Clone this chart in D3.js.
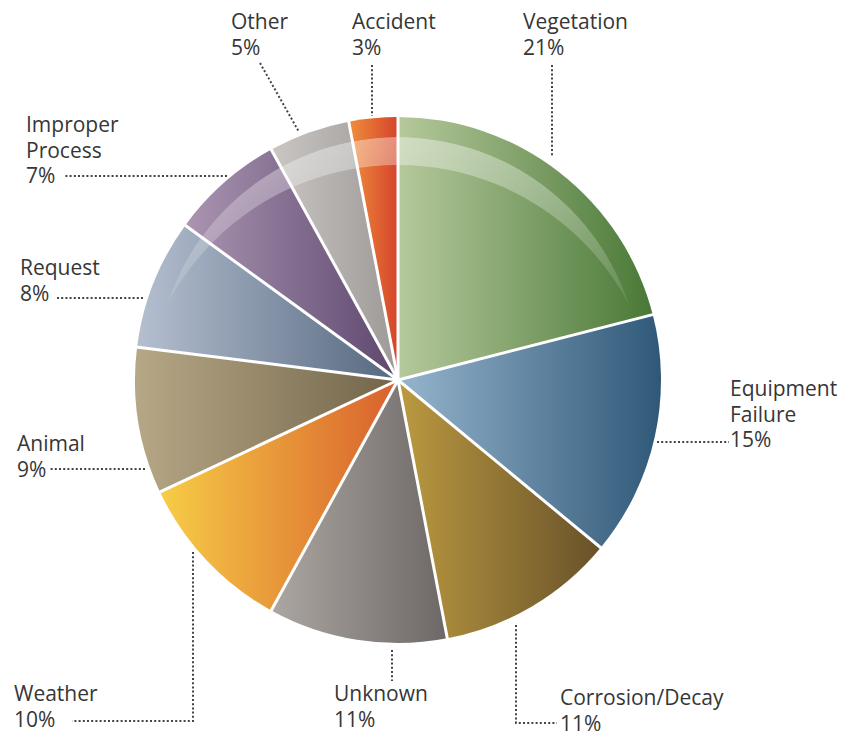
<!DOCTYPE html>
<html>
<head>
<meta charset="utf-8">
<script src="https://cdn.jsdelivr.net/npm/d3@7"></script>
<style>
  body { margin: 0; background: #fff; }
  text { font-family: "Open Sans", "DejaVu Sans", sans-serif; fill: #363636; }
</style>
</head>
<body>
<svg id="svg_pie" width="848" height="736"></svg>
<script>
var width = 848;
var height = 736;

// data (clockwise from 12 o'clock)
var categories = ["Vegetation", "Equipment Failure", "Corrosion/Decay", "Unknown", "Weather",
                  "Animal", "Request", "Improper Process", "Other", "Accident"];
var values = [21, 15, 11, 11, 10, 9, 8, 7, 5, 3];
var labelLines = [["Vegetation"], ["Equipment", "Failure"], ["Corrosion/Decay"], ["Unknown"], ["Weather"],
                  ["Animal"], ["Request"], ["Improper", "Process"], ["Other"], ["Accident"]];

// left (light) -> right (dark) colours of each slice
var lightColors = ["#b6c99c", "#97b5cd", "#bb9a40", "#aca7a2", "#f7cd46",
                   "#b6a886", "#b5bfd0", "#ab95b2", "#c9c6c3", "#f08e3d"];
var darkColors  = ["#497836", "#2f5878", "#68512a", "#6d6866", "#d8602d",
                   "#726449", "#55687f", "#5d476e", "#9c9997", "#d4442a"];

// label layout: text anchor [x, baseline of first line], leader polyline
var labelPos = [[523, 29], [730, 396], [560, 705], [334, 701], [14, 701],
                [17, 451], [20, 275], [26, 132], [231, 29], [352, 29]];
var leaders = [
  [[552, 65], [552, 157]],
  [[657, 442], [729, 442]],
  [[516, 625], [516, 723], [557, 723]],
  [[392, 650], [392, 681]],
  [[193, 552], [193, 721], [72, 721]],
  [[145, 469], [50, 469]],
  [[143, 298], [56, 298]],
  [[227, 176], [64, 176]],
  [[260, 63], [299, 132]],
  [[372, 65], [372, 116]]
];

var cx = 398, cy = 380, radius = 263;
var lineH = 25.5;

var svg = d3.select("#svg_pie");
var defs = svg.append("defs");

categories.forEach(function(c, i) {
  var g = defs.append("linearGradient")
    .attr("id", "grad" + i)
    .attr("x1", 0).attr("x2", 1).attr("y1", 0).attr("y2", 0);
  g.append("stop").attr("offset", "0%").attr("stop-color", lightColors[i]);
  g.append("stop").attr("offset", "100%").attr("stop-color", darkColors[i]);
});

var hl = defs.append("linearGradient")
  .attr("id", "hlgrad")
  .attr("gradientUnits", "userSpaceOnUse")
  .attr("x1", 0).attr("x2", 0)
  .attr("y1", -radius * 0.93).attr("y2", -radius * 0.28);
hl.append("stop").attr("offset", "0%").attr("stop-color", "#fff").attr("stop-opacity", 0.4);
hl.append("stop").attr("offset", "100%").attr("stop-color", "#fff").attr("stop-opacity", 0.1);

// mask: outer circle minus a lower, larger circle -> crescent
var rA = radius * 0.924;
var d0 = 46, rB = 261;
var mask = defs.append("mask").attr("id", "crescent")
  .attr("maskUnits", "userSpaceOnUse")
  .attr("x", -400).attr("y", -400).attr("width", 800).attr("height", 800);
mask.append("circle").attr("r", rA).attr("fill", "#fff");
mask.append("circle").attr("cy", d0).attr("r", rB).attr("fill", "#000");

var pie = d3.pie().sort(null).value(function(d) { return d; });
var arc = d3.arc().innerRadius(0).outerRadius(radius);
var arcs = pie(values);

var g = svg.append("g").attr("transform", "translate(" + cx + "," + cy + ")");

g.selectAll("path.slice")
  .data(arcs)
  .enter()
  .append("path")
    .attr("class", "slice")
    .attr("fill", function(d, i) { return "url(#grad" + i + ")"; })
    .attr("d", arc);

g.append("circle")
  .attr("r", rA)
  .attr("fill", "url(#hlgrad)")
  .attr("mask", "url(#crescent)");

// white separators drawn over the gloss
g.selectAll("path.sep")
  .data(arcs)
  .enter()
  .append("path")
    .attr("class", "sep")
    .attr("fill", "none")
    .attr("stroke", "#fff")
    .attr("stroke-width", 3)
    .attr("d", function(d) {
      var a = d.startAngle;
      return "M0,0L" + (radius + 1) * Math.sin(a) + "," + (-(radius + 1) * Math.cos(a));
    });

// leader lines
var line = d3.line();
svg.selectAll("path.leader")
  .data(leaders)
  .enter()
  .append("path")
    .attr("class", "leader")
    .attr("fill", "none")
    .attr("stroke", "#444")
    .attr("stroke-width", 2)
    .attr("stroke-dasharray", "2,2.2")
    .attr("d", line);

// labels
var labels = svg.selectAll("text.lbl")
  .data(categories)
  .enter()
  .append("text")
    .attr("class", "lbl")
    .attr("font-size", 21)
    .attr("x", function(d, i) { return labelPos[i][0]; })
    .attr("y", function(d, i) { return labelPos[i][1]; });

labels.each(function(d, i) {
  var t = d3.select(this);
  var lines = labelLines[i].concat([values[i] + "%"]);
  lines.forEach(function(s, k) {
    t.append("tspan")
      .attr("x", labelPos[i][0])
      .attr("dy", k === 0 ? 0 : lineH)
      .text(s);
  });
});
</script>
</body>
</html>
